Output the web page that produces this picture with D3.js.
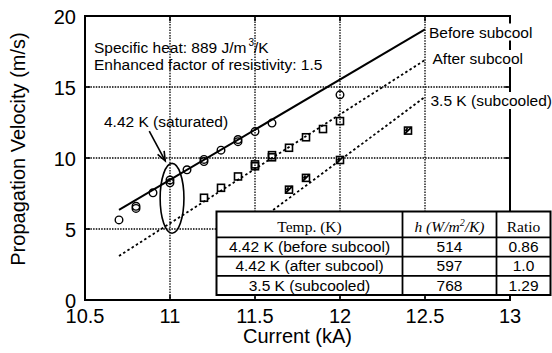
<!DOCTYPE html>
<html>
<head>
<meta charset="utf-8">
<script src="https://cdn.jsdelivr.net/npm/d3@7"></script>
<style>
  body { margin: 0; background: #fff; }
  svg { display: block; }
  text { font-family: "Liberation Sans", Arial, sans-serif; fill: #000; }
  .serif { font-family: "Liberation Serif", "Times New Roman", serif; }
</style>
</head>
<body>
<div id="chart"></div>
<script>
// axis ticks
const xTicks = [10.5, 11, 11.5, 12, 12.5, 13];
const yTicks = [0, 5, 10, 15, 20];

// 4.42 K before subcool (open circles)
const beforeCurrent  = [10.7, 10.8, 10.8, 10.9, 11.0, 11.0, 11.1, 11.2, 11.2, 11.3, 11.4, 11.4, 11.5, 11.6, 12.0];
const beforeVelocity = [5.64, 6.45, 6.6, 7.55, 8.25, 8.45, 9.17, 9.75, 9.9, 10.55, 11.15, 11.3, 11.86, 12.46, 14.45];

// 4.42 K after subcool (open squares)
const afterCurrent  = [11.2, 11.3, 11.4, 11.5, 11.5, 11.6, 11.6, 11.7, 11.8, 11.9, 12.0];
const afterVelocity = [7.2, 7.9, 8.7, 9.42, 9.55, 10.05, 10.2, 10.72, 11.46, 12.04, 12.6];

// 3.5 K subcooled (hatched squares)
const subCurrent  = [11.7, 11.8, 12.0, 12.4];
const subVelocity = [7.77, 8.6, 9.86, 11.93];

// calculated lines
const beforeLineX = [10.7, 12.5], beforeLineY = [6.34, 19.06];
const afterLineX  = [10.7, 12.5], afterLineY  = [3.1, 16.9];
const subLineX    = [11.3, 12.5], subLineY    = [3.6, 14.3];

const lineLabels = ["Before subcool", "After subcool", "3.5 K (subcooled)"];

// table
const tableTemps = ["4.42 K (before subcool)", "4.42 K (after subcool)", "3.5 K (subcooled)"];
const tableH = ["514", "597", "768"];
const tableRatio = ["0.86", "1.0", "1.29"];

const width = 552, height = 353;
const plotLeft = 85, plotRight = 510, plotTop = 16, plotBottom = 300;

const svg = d3.select("#chart").append("svg")
    .attr("width", width)
    .attr("height", height);

const x = d3.scaleLinear().domain([10.5, 13]).range([plotLeft, plotRight]);
const y = d3.scaleLinear().domain([0, 20]).range([plotBottom, plotTop]);

// gridlines
const grid = svg.append("g")
    .attr("stroke", "#000")
    .attr("stroke-width", 1.3)
    .attr("stroke-dasharray", "1.5,1.2");
grid.selectAll(".gx").data(xTicks.slice(1, -1)).enter().append("line")
    .attr("x1", d => x(d)).attr("x2", d => x(d))
    .attr("y1", plotTop).attr("y2", plotBottom);
grid.selectAll(".gy").data(yTicks.slice(1, -1)).enter().append("line")
    .attr("x1", plotLeft).attr("x2", plotRight)
    .attr("y1", d => y(d)).attr("y2", d => y(d));

// fit lines
const line = d3.line().x(d => x(d[0])).y(d => y(d[1]));
svg.append("path")
    .datum(d3.zip(beforeLineX, beforeLineY))
    .attr("fill", "none").attr("stroke", "#000").attr("stroke-width", 2)
    .attr("d", line);
svg.append("path")
    .datum(d3.zip(afterLineX, afterLineY))
    .attr("fill", "none").attr("stroke", "#000").attr("stroke-width", 1.8)
    .attr("stroke-dasharray", "2.5,2.5")
    .attr("d", line);
svg.append("path")
    .datum(d3.zip(subLineX, subLineY))
    .attr("fill", "none").attr("stroke", "#000").attr("stroke-width", 1.8)
    .attr("stroke-dasharray", "2.5,2.5")
    .attr("d", line);

// markers
svg.append("g").selectAll("circle")
    .data(d3.zip(beforeCurrent, beforeVelocity))
    .enter().append("circle")
    .attr("cx", d => x(d[0])).attr("cy", d => y(d[1]))
    .attr("r", 3.8)
    .attr("fill", "none")
    .attr("stroke", "#000").attr("stroke-width", 1.4);

const sq = 7;
svg.append("g").selectAll("rect")
    .data(d3.zip(afterCurrent, afterVelocity))
    .enter().append("rect")
    .attr("x", d => x(d[0]) - sq / 2).attr("y", d => y(d[1]) - sq / 2)
    .attr("width", sq).attr("height", sq)
    .attr("fill", "none")
    .attr("stroke", "#000").attr("stroke-width", 1.6);

const hatched = svg.append("g").selectAll("g")
    .data(d3.zip(subCurrent, subVelocity))
    .enter().append("g")
    .attr("transform", d => `translate(${x(d[0])},${y(d[1])})`);
hatched.append("rect")
    .attr("x", -sq / 2).attr("y", -sq / 2)
    .attr("width", sq).attr("height", sq)
    .attr("fill", "#fff")
    .attr("stroke", "#000").attr("stroke-width", 1.6);
hatched.append("path")
    .attr("d", `M${-sq / 2},${sq / 2}L${sq / 2},${-sq / 2}M${-sq / 2 + 1},${sq / 2 - 3}L${-sq / 2 + 3},${-sq / 2 + 1}`)
    .attr("stroke", "#000").attr("stroke-width", 1.8);

// frame
svg.append("rect")
    .attr("x", plotLeft).attr("y", plotTop)
    .attr("width", plotRight - plotLeft).attr("height", plotBottom - plotTop)
    .attr("fill", "none").attr("stroke", "#000").attr("stroke-width", 2);

// inward ticks
const ticks = svg.append("g").attr("stroke", "#000").attr("stroke-width", 1.6);
xTicks.slice(1, -1).forEach(t => {
    ticks.append("line").attr("x1", x(t)).attr("x2", x(t)).attr("y1", plotBottom).attr("y2", plotBottom - 5);
    ticks.append("line").attr("x1", x(t)).attr("x2", x(t)).attr("y1", plotTop).attr("y2", plotTop + 5);
});
yTicks.slice(1, -1).forEach(t => {
    ticks.append("line").attr("x1", plotLeft).attr("x2", plotLeft + 5).attr("y1", y(t)).attr("y2", y(t));
    ticks.append("line").attr("x1", plotRight).attr("x2", plotRight - 5).attr("y1", y(t)).attr("y2", y(t));
});

// tick labels
svg.append("g").selectAll("text").data(xTicks).enter().append("text")
    .attr("x", d => x(d)).attr("y", 323)
    .attr("text-anchor", "middle")
    .attr("font-size", 20)
    .text(d => d);
svg.append("g").selectAll("text").data(yTicks).enter().append("text")
    .attr("x", 76).attr("y", d => y(d) + 7.5)
    .attr("text-anchor", "end")
    .attr("font-size", 20)
    .text(d => d);

// axis titles
svg.append("text")
    .attr("x", (plotLeft + plotRight) / 2).attr("y", 343)
    .attr("text-anchor", "middle")
    .attr("font-size", 20)
    .text("Current (kA)");
svg.append("text")
    .attr("transform", "translate(25,149) rotate(-90)")
    .attr("text-anchor", "middle")
    .attr("font-size", 20)
    .text("Propagation Velocity (m/s)");

// table
const tLeft = 216.5, tRight = 550.5;
const colX = [tLeft, 402.5, 496.5, tRight];
const rowY = [211.5, 237.3, 256.7, 275.8, 295];
const table = svg.append("g");
table.append("rect")
    .attr("x", tLeft).attr("y", rowY[0])
    .attr("width", tRight - tLeft).attr("height", rowY[4] - rowY[0])
    .attr("fill", "#fff").attr("stroke", "#000").attr("stroke-width", 2);
rowY.slice(1, -1).forEach(r => {
    table.append("line").attr("x1", tLeft).attr("x2", tRight).attr("y1", r).attr("y2", r)
        .attr("stroke", "#000").attr("stroke-width", 1.8);
});
colX.slice(1, -1).forEach(c => {
    table.append("line").attr("x1", c).attr("x2", c).attr("y1", rowY[0]).attr("y2", rowY[4])
        .attr("stroke", "#000").attr("stroke-width", 1.8);
});
const colMid = i => (colX[i] + colX[i + 1]) / 2;
table.append("text").attr("class", "serif")
    .attr("x", colMid(0)).attr("y", rowY[1] - 5.5)
    .attr("text-anchor", "middle").attr("font-size", 15.5)
    .text("Temp. (K)");
const hHead = table.append("text").attr("class", "serif")
    .attr("x", colMid(1)).attr("y", rowY[1] - 5.5)
    .attr("text-anchor", "middle").attr("font-size", 15.5)
    .attr("font-style", "italic");
hHead.append("tspan").text("h (W/m");
hHead.append("tspan").attr("font-size", 10).attr("dy", -6).text("2");
hHead.append("tspan").attr("dy", 6).text("/K)");
table.append("text").attr("class", "serif")
    .attr("x", colMid(2)).attr("y", rowY[1] - 5.5)
    .attr("text-anchor", "middle").attr("font-size", 15.5)
    .text("Ratio");
[tableTemps, tableH, tableRatio].forEach((col, ci) => {
    col.forEach((v, ri) => {
        table.append("text")
            .attr("x", colMid(ci)).attr("y", rowY[ri + 2] - 4.5)
            .attr("text-anchor", "middle").attr("font-size", 15.5)
            .text(v);
    });
});

// line labels with white backing
const labelPos = [[429, 37.5], [432.5, 64], [430.5, 106]];
lineLabels.forEach((t, i) => {
    const g = svg.append("g");
    const bg = g.append("rect").attr("fill", "#fff");
    const txt = g.append("text")
        .attr("x", labelPos[i][0]).attr("y", labelPos[i][1])
        .attr("font-size", 15.5)
        .text(t);
    const b = txt.node().getBBox();
    bg.attr("x", b.x - 1).attr("y", b.y).attr("width", b.width + 2).attr("height", b.height);
});

// notes
const note = svg.append("text").attr("x", 94).attr("y", 53).attr("font-size", 15.5);
note.append("tspan").text("Specific heat: 889 J/m");
note.append("tspan").attr("font-size", 10).attr("dx", 2).attr("dy", -7).text("3");
note.append("tspan").attr("dy", 7).text("/K");
svg.append("text").attr("x", 94).attr("y", 69.5).attr("font-size", 15.5)
    .text("Enhanced factor of resistivity: 1.5");

svg.append("text").attr("x", 104).attr("y", 127).attr("font-size", 15.5)
    .text("4.42 K (saturated)");

// ellipse around the 11 kA points
svg.append("ellipse")
    .attr("cx", x(11.012)).attr("cy", y(7.16))
    .attr("rx", x(11.082) - x(11.012)).attr("ry", y(7.16) - y(9.62))
    .attr("fill", "none").attr("stroke", "#000").attr("stroke-width", 1.6);

// arrow
const a0 = [x(10.878), y(11.9)], a1 = [x(10.972), y(9.8)];
const ang = Math.atan2(a1[1] - a0[1], a1[0] - a0[0]);
const hl = 10, hw = 0.38;
svg.append("line")
    .attr("x1", a0[0]).attr("y1", a0[1]).attr("x2", a1[0]).attr("y2", a1[1])
    .attr("stroke", "#000").attr("stroke-width", 1.6);
svg.append("path")
    .attr("d", `M${a1[0] - hl * Math.cos(ang - hw)},${a1[1] - hl * Math.sin(ang - hw)}L${a1[0]},${a1[1]}L${a1[0] - hl * Math.cos(ang + hw)},${a1[1] - hl * Math.sin(ang + hw)}`)
    .attr("fill", "none").attr("stroke", "#000").attr("stroke-width", 1.6);
</script>
</body>
</html>
